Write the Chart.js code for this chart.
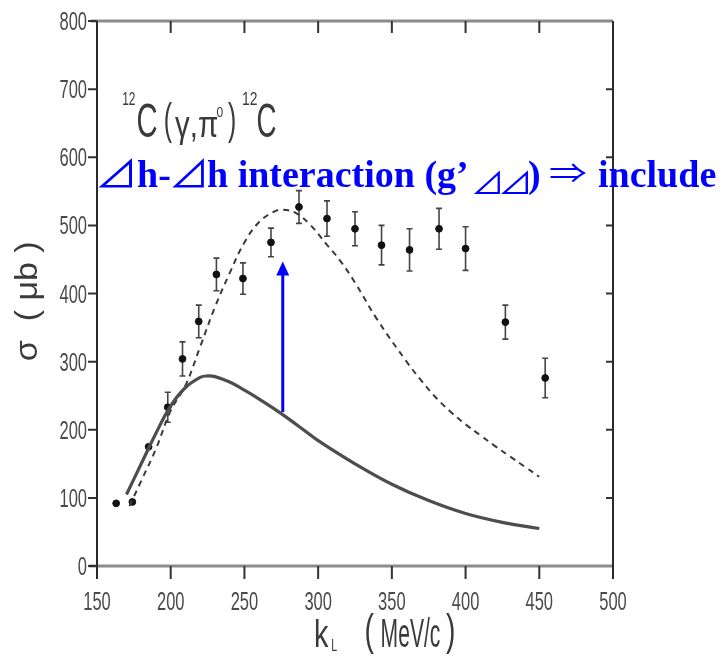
<!DOCTYPE html>
<html>
<head>
<meta charset="utf-8">
<script src="https://cdn.jsdelivr.net/npm/chart.js@4.4.1/dist/chart.umd.min.js"></script>
<style>
  html, body { margin: 0; padding: 0; background: #fff; }
  #wrap { width: 722px; height: 660px; }
</style>
</head>
<body>
<div id="wrap"><canvas id="c" width="722" height="660"></canvas></div>
<script>
// Measured 12C(gamma,pi0)12C cross sections: photon momentum k_L (MeV/c), sigma (microbarn), error
const dataK     = [163, 174, 185, 198, 208, 219, 231, 249, 268, 287, 306, 325, 343, 362, 382, 400, 427, 454];
const dataSigma = [ 92,  94, 175, 233, 304, 359, 428, 422, 475, 527, 510, 495, 471, 464, 495, 466, 358, 276];
const dataErr   = [  0,   0,   0,  22,  25,  24,  24,  23,  21,  24,  26,  25,  29,  31,  30,  32,  25,  29];

// Calculation without the Delta-h / Delta-h interaction (solid curve)
const calcK      = [170, 180, 190, 200, 210, 220, 225, 230, 240, 250, 260, 270, 280, 290, 300, 325, 350, 375, 400, 425, 450];
const calcNoDD   = [105, 150, 195, 235, 262, 277, 279, 278, 270, 258, 245, 231, 216, 200, 184, 150, 120,  96,  77,  64,  55];

// Calculation including g'_DeltaDelta (dashed curve)
const calcKdd    = [172, 180, 190, 200, 210, 220, 230, 240, 250, 260, 270, 276, 285, 295, 305, 315, 325, 340, 360, 370, 380, 390, 400, 410, 420, 430, 440, 450];
const calcWithDD = [ 88, 125, 172, 228, 265, 322, 380, 430, 475, 505, 520, 523, 518, 500, 474, 448, 416, 362, 300, 272, 247, 226, 208, 192, 176, 161, 146, 131];

// Axis ticks
const xTickValues = [150, 200, 250, 300, 350, 400, 450, 500];
const yTickValues = [0, 100, 200, 300, 400, 500, 600, 700, 800];

// Upward arrow marking the increase: at k_L, from sigma to sigma
const arrowK = 276, arrowFrom = 226, arrowTo = 447;

const SANS = "'Liberation Sans','Arimo','DejaVu Sans',sans-serif";
const SERIF = "'Liberation Serif','DejaVu Serif',serif";
const SYMBOL = "'Noto Sans CJK JP','DejaVu Sans',sans-serif";
const INK = '#3a3a3a';

function setFont(ctx, size, family, weight) {
  ctx.font = (weight || 'normal') + ' ' + size + 'px ' + family;
  ctx.textAlign = 'left';
  ctx.textBaseline = 'alphabetic';
}
// text drawn at a baseline with horizontal compression
function piece(ctx, txt, x, base, size, sx, family, weight) {
  ctx.save();
  setFont(ctx, size, family, weight);
  ctx.translate(x, base);
  ctx.scale(sx, 1);
  ctx.fillText(txt, 0, 0);
  ctx.restore();
}
function textWidth(ctx, txt, size, family, weight) {
  ctx.save();
  setFont(ctx, size, family, weight);
  const w = ctx.measureText(txt).width;
  ctx.restore();
  return w;
}
// text whose inked box is stretched to the given box
function fitInk(ctx, txt, left, top, width, height, family, weight, size) {
  ctx.save();
  setFont(ctx, size || 60, family, weight);
  const m = ctx.measureText(txt);
  const iw = m.actualBoundingBoxLeft + m.actualBoundingBoxRight;
  const ih = m.actualBoundingBoxAscent + m.actualBoundingBoxDescent;
  ctx.translate(left, top);
  ctx.scale(width / iw, height / ih);
  ctx.fillText(txt, m.actualBoundingBoxLeft, m.actualBoundingBoxAscent);
  ctx.restore();
}

const TICK_SIZE = 25, TICK_SX = 0.66;

const decor = {
  id: 'decor',
  beforeDatasetsDraw(chart) {
    const { ctx, scales: { x, y } } = chart;
    ctx.save();
    ctx.strokeStyle = '#444';
    ctx.lineWidth = 1.6;
    dataK.forEach((k, i) => {
      const e = dataErr[i];
      if (!e) return;
      const px = x.getPixelForValue(k);
      const t = y.getPixelForValue(dataSigma[i] + e);
      const b = y.getPixelForValue(dataSigma[i] - e);
      ctx.beginPath();
      ctx.moveTo(px, t); ctx.lineTo(px, b);
      ctx.moveTo(px - 3, t); ctx.lineTo(px + 3, t);
      ctx.moveTo(px - 3, b); ctx.lineTo(px + 3, b);
      ctx.stroke();
    });
    ctx.restore();
  },
  afterDraw(chart) {
    const { ctx, chartArea: a, scales: { x, y } } = chart;
    ctx.save();
    // frame: grey top/bottom rules, dark side rules
    ctx.strokeStyle = '#8c8c8c';
    ctx.lineWidth = 3;
    ctx.beginPath();
    ctx.moveTo(a.left - 6, a.top); ctx.lineTo(a.right, a.top);
    ctx.moveTo(a.left - 8, a.bottom); ctx.lineTo(a.right, a.bottom);
    ctx.stroke();
    ctx.strokeStyle = '#2a2a2a';
    ctx.lineWidth = 2;
    ctx.beginPath();
    ctx.moveTo(a.left, a.top); ctx.lineTo(a.left, a.bottom + 13);
    ctx.moveTo(a.right, a.top); ctx.lineTo(a.right, a.bottom + 13);
    ctx.stroke();
    // tick marks
    ctx.strokeStyle = '#333';
    ctx.beginPath();
    xTickValues.forEach(v => {
      if (v === 150 || v === 500) return;
      const px = x.getPixelForValue(v);
      ctx.moveTo(px, a.bottom); ctx.lineTo(px, a.bottom + 13);
      ctx.moveTo(px, a.top); ctx.lineTo(px, a.top + 12);
    });
    yTickValues.forEach(v => {
      const py = y.getPixelForValue(v);
      ctx.moveTo(a.left - 9, py); ctx.lineTo(a.left, py);
      if (v > 0 && v < 800) { ctx.moveTo(a.right - 7, py); ctx.lineTo(a.right, py); }
    });
    ctx.stroke();

    // tick labels
    ctx.fillStyle = '#4a4a4a';
    x.ticks.forEach(t => {
      const s = String(t.value);
      const w = textWidth(ctx, s, TICK_SIZE, SANS) * TICK_SX;
      piece(ctx, s, x.getPixelForValue(t.value) - w / 2, 610, TICK_SIZE, TICK_SX, SANS);
    });
    y.ticks.forEach(t => {
      const s = String(t.value);
      const w = textWidth(ctx, s, TICK_SIZE, SANS) * TICK_SX;
      piece(ctx, s, a.left - 10 - w, y.getPixelForValue(t.value) + 9, TICK_SIZE, TICK_SX, SANS);
    });

    // reaction label
    ctx.fillStyle = INK;
    fitInk(ctx, '12', 123, 92, 12, 13, SANS);
    fitInk(ctx, 'C', 138, 103, 19, 35, SANS);
    fitInk(ctx, '(', 165, 103, 7, 40, SANS);
    fitInk(ctx, 'γ,π', 175, 118, 42, 27, SANS);
    fitInk(ctx, '0', 217, 107, 6, 10, SANS);
    fitInk(ctx, ')', 228, 103, 7, 40, SANS);
    fitInk(ctx, '12', 243, 92, 14, 13, SANS);
    fitInk(ctx, 'C', 258, 103, 18, 35, SANS);

    // axis titles
    ctx.save();
    ctx.translate(14, 360);
    ctx.rotate(-Math.PI / 2);
    fitInk(ctx, 'σ  ( μb )', 0, 0, 117, 29, SANS);
    ctx.restore();
    fitInk(ctx, 'k', 316, 619, 13, 28, SANS);
    fitInk(ctx, 'L', 332, 640, 5, 11, SANS);
    fitInk(ctx, '(', 366, 614, 8, 40, SANS);
    fitInk(ctx, 'MeV/c', 382, 618, 58, 30, SANS);
    fitInk(ctx, ')', 446, 614, 8, 40, SANS);

    // annotation in blue
    ctx.fillStyle = '#0000ff';
    fitInk(ctx, '⊿', 98, 158, 35, 30, SYMBOL, 'normal', 36);
    piece(ctx, 'h-', 137, 187, 38, 1, SERIF, 'bold');
    fitInk(ctx, '⊿', 172, 158, 33, 30, SYMBOL, 'normal', 36);
    piece(ctx, 'h interaction (g’', 207, 187, 38, 1, SERIF, 'bold');
    fitInk(ctx, '⊿', 473, 170, 27, 25, SYMBOL, 'normal', 30);
    fitInk(ctx, '⊿', 500, 170, 28, 25, SYMBOL, 'normal', 30);
    piece(ctx, ')', 528, 187, 38, 1, SERIF, 'bold');
    fitInk(ctx, '⇒', 550, 163, 37, 19, SYMBOL, 'normal', 40);
    piece(ctx, 'include', 598, 187, 38, 1, SERIF, 'bold');

    // arrow
    const ax = x.getPixelForValue(arrowK);
    const y0 = y.getPixelForValue(arrowFrom);
    const y1 = y.getPixelForValue(arrowTo);
    ctx.strokeStyle = '#0000ff';
    ctx.lineWidth = 3;
    ctx.beginPath();
    ctx.moveTo(ax, y0); ctx.lineTo(ax, y1 + 12);
    ctx.stroke();
    ctx.beginPath();
    ctx.moveTo(ax, y1); ctx.lineTo(ax - 6.5, y1 + 14); ctx.lineTo(ax + 6.5, y1 + 14); ctx.closePath();
    ctx.fill();
    ctx.restore();
  }
};

new Chart(document.getElementById('c'), {
  type: 'scatter',
  data: {
    datasets: [
      {
        type: 'line',
        data: calcK.map((k, i) => ({ x: k, y: calcNoDD[i] })),
        borderColor: '#4d4d4d',
        borderWidth: 3.2,
        pointRadius: 0,
        tension: 0.4,
        fill: false
      },
      {
        type: 'line',
        data: calcKdd.map((k, i) => ({ x: k, y: calcWithDD[i] })),
        borderColor: '#3a3a3a',
        borderWidth: 2,
        borderDash: [6, 5],
        pointRadius: 0,
        tension: 0.4,
        fill: false
      },
      {
        data: dataK.map((k, i) => ({ x: k, y: dataSigma[i] })),
        backgroundColor: '#111',
        borderColor: '#111',
        pointRadius: 3.4,
        pointStyle: 'circle'
      }
    ]
  },
  options: {
    responsive: false,
    animation: false,
    events: [],
    layout: { padding: { left: 0, top: 21, right: 109, bottom: 0 } },
    plugins: { legend: { display: false }, tooltip: { enabled: false }, title: { display: false } },
    scales: {
      x: {
        type: 'linear',
        min: 150, max: 500,
        afterBuildTicks: s => { s.ticks = xTickValues.map(v => ({ value: v })); },
        afterFit: s => { s.height = 94; },
        grid: { display: false },
        border: { display: false },
        ticks: { display: false }
      },
      y: {
        type: 'linear',
        min: 0, max: 800,
        afterBuildTicks: s => { s.ticks = yTickValues.map(v => ({ value: v })); },
        afterFit: s => { s.width = 97; },
        grid: { display: false },
        border: { display: false },
        ticks: { display: false }
      }
    }
  },
  plugins: [decor]
});
</script>
</body>
</html>
